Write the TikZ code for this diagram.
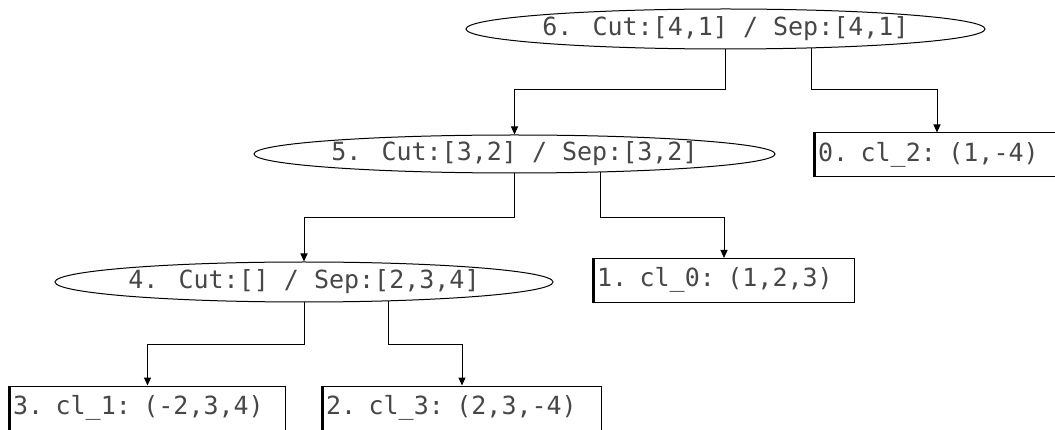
\documentclass[tikz,border=0pt]{standalone}
\usepackage{fontspec}
\newfontfamily\codefont{DejaVu Sans Mono}
\usetikzlibrary{shapes.geometric,arrows.meta,backgrounds}

\begin{document}
\begin{tikzpicture}[x=1pt,y=-1pt,
  every node/.style={font=\codefont\fontsize{25}{25}\selectfont, text=black!72,
    text height=18pt, text depth=5pt},
  split/.style={ellipse, draw, line width=1pt, fill=white, inner sep=0pt},
  leaf/.style={rectangle, draw, line width=1pt, fill=white, minimum height=44pt,
    inner xsep=3pt, inner ysep=0pt, align=left},
  link/.style={line width=1pt, -{Triangle[length=8pt,width=7pt]}},
  leftedge/.style={line width=2.2pt}
]
\useasboundingbox (0,0) rectangle (1055,430);

% split nodes
\node[split, minimum width=519pt, minimum height=40pt] (n6) at (725.5,29) {6. Cut:[4,1] / Sep:[4,1]};
\node[split, minimum width=521pt, minimum height=38pt] (n5) at (514.5,154) {5. Cut:[3,2] / Sep:[3,2]};
\node[split, minimum width=498pt, minimum height=40pt] (n4) at (304,282) {4. Cut:[] / Sep:[2,3,4]};

% leaf nodes
\node[leaf, text width=238pt] (n0) at (937,155) {0. cl\_2: (1,-4)};
\node[leaf, text width=254pt] (n1) at (724,280.5) {1. cl\_0: (1,2,3)};
\node[leaf, text width=269pt] (n3) at (147.5,408) {3. cl\_1: (-2,3,4)};
\node[leaf, text width=272pt] (n2) at (462,408) {2. cl\_3: (2,3,-4)};

% heavier left side of each leaf box
\foreach \b in {n0,n1,n2,n3}
  \draw[leftedge] (\b.north west) -- (\b.south west);

% elbow connectors, behind the filled shapes
\begin{scope}[on background layer]
  \draw[link] (n6.center) -- ++(0,61) -| (n5.north);
  \draw[link] ([xshift=86pt]n6.center) -- ++(0,61) -| (n0.north);
  \draw[link] (n5.center) -- ++(0,64) -| (n4.north);
  \draw[link] ([xshift=86pt]n5.center) -- ++(0,64) -| (n1.north);
  \draw[link] (n4.center) -- ++(0,63) -| (n3.north);
  \draw[link] ([xshift=84pt]n4.center) -- ++(0,63) -| (n2.north);
\end{scope}
\end{tikzpicture}
\end{document}
